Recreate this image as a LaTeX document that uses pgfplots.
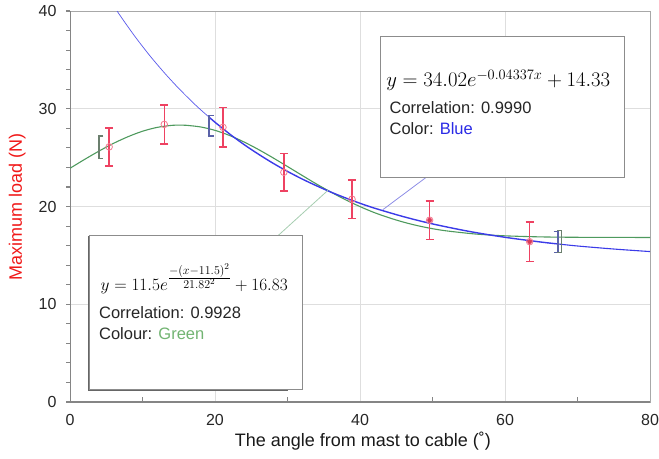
\documentclass[border=0pt]{standalone}
\usepackage[no-math]{fontspec}
\setmainfont{Liberation Sans}
\usepackage{pgfplots}
\pgfplotsset{compat=1.18}

\definecolor{fitblue}{HTML}{3B3BE8}
\definecolor{fitgreen}{HTML}{4E9A5E}
\definecolor{errred}{HTML}{EE4262}
\definecolor{labelred}{HTML}{F01818}
\definecolor{gridgray}{HTML}{DEDEDE}
\definecolor{framegray}{HTML}{A8A8A8}
\definecolor{axisgray}{HTML}{858585}
\definecolor{brgreen}{HTML}{6B7F6E}
\definecolor{brblue}{HTML}{5A62A8}
\definecolor{callblue}{HTML}{8E8EE6}
\definecolor{callgreen}{HTML}{A6CDB0}
\definecolor{txtgreen}{HTML}{72B472}
\definecolor{txtblue}{HTML}{2A2AE6}

\begin{document}
\begin{tikzpicture}
\begin{axis}[
  name=ax, scale only axis, width=580pt, height=391pt,
  xmin=0, xmax=80, ymin=0, ymax=40,
  xtick={0,20,40,60,80}, ytick={0,10,20,30,40},
  minor xtick={10,30,50,70}, minor ytick={2,4,6,8,12,14,16,18,22,24,26,28,32,34,36,38},
  grid=major, major grid style={gridgray, line width=0.7pt},
  axis line style={draw=framegray, line width=0.9pt},
  tick pos=left, tick align=outside,
  major tick length=4pt, minor tick length=4pt,
  every tick/.style={axisgray, line width=1.1pt},
  every minor tick/.style={axisgray, line width=1.1pt},
  major x tick style={draw=none},
  minor x tick style={yshift=5pt},
  ticklabel style={font=\fontsize{16}{18}\selectfont, text=black!85},
  yticklabel style={xshift=-6pt},
  xticklabel style={yshift=-5pt},
  /pgf/number format/assume math mode=true,
  xlabel={The angle from mast to cable (˚)},
  ylabel={Maximum load (N)},
  xlabel style={font=\fontsize{18}{20}\selectfont, text=black!90,
    at={(axis description cs:0.505,-0.1)}, anchor=center},
  ylabel style={font=\fontsize{18}{20}\selectfont, text=labelred,
    at={(axis description cs:-0.091,0.5)}, anchor=center},
]
% heavier left and bottom axis lines
\draw[axisgray, line width=1.8pt] (rel axis cs:0,1) -- (rel axis cs:0,0) -- (rel axis cs:1,0);

% gaussian fit (green)
\addplot[fitgreen, line width=1.1pt, smooth] coordinates {
(0,23.91)(2,24.81)(4,25.67)(6,26.46)(8,27.14)(10,27.70)(12,28.09)(14,28.30)
(15.2,28.33)(16,28.31)(18,28.14)(20,27.79)(22,27.27)(24,26.60)(26,25.83)
(28,24.98)(30,24.09)(32,23.19)(34,22.30)(36,21.47)(38,20.69)(40,19.99)
(42,19.37)(44,18.85)(46,18.40)(48,18.03)(50,17.73)(52,17.50)(56,17.18)
(60,17.00)(65,16.89)(70,16.85)(75,16.84)(80,16.83)};

% exponential fit (blue), thin outside the fit range
\addplot[fitblue!85, line width=0.7pt, smooth] coordinates {
(6.5,39.99)(7,39.44)(8,38.38)(9,37.35)(10,36.38)(11,35.44)(12,34.55)(13,33.69)
(14,32.87)(15,32.08)(16,31.33)(17,30.60)(18,29.91)(19.2,29.13)};
\addplot[fitblue, line width=1.4pt, smooth] coordinates {
(19.2,29.13)(20,28.62)(22,27.43)(24,26.34)(26,25.35)(28,24.43)(30,23.59)
(32,22.82)(34,22.12)(36,21.47)(38,20.88)(40,20.33)(42,19.83)(46,18.96)
(50,18.22)(55,17.46)(60,16.85)(65,16.36)(67.3,16.17)};
\addplot[fitblue, line width=1.1pt, smooth] coordinates {
(67.3,16.17)(70,15.96)(75,15.65)(80,15.39)};

% fit range brackets
\addplot[brgreen, line width=1.5pt] coordinates {(4.6,27.2)(4.0,27.2)(4.0,24.9)(4.6,24.9)};
\addplot[brblue, line width=1.5pt] coordinates {(19.8,29.3)(19.2,29.3)(19.2,27.2)(19.8,27.2)};
\addplot[brblue, line width=1.5pt] coordinates {(66.7,17.45)(67.3,17.45)(67.3,15.3)(66.7,15.3)};
\addplot[brgreen, line width=1.5pt] coordinates {(67.2,17.55)(67.8,17.55)(67.8,15.3)(67.2,15.3)};

% measurements with error bars
\addplot[errred, only marks, mark=o, mark size=3.3pt, mark options={errred!70, line width=0.8pt},
  error bars/.cd, y dir=both, y explicit,
  error bar style={errred, line width=1.4pt},
  error mark options={errred, rotate=90, mark size=4pt, line width=1.4pt}]
coordinates {
(5.4,26.1) +- (0,1.95)
(13.0,28.4) +- (0,2.0)
(21.1,28.1) +- (0,2.0)
(29.5,23.5) +- (0,1.9)
(38.9,20.75) +- (0,1.96)
(49.6,18.6) +- (0,1.95)
(63.4,16.4) +- (0,2.0)};
\addplot[only marks, mark=*, mark size=2.2pt, errred, mark options={fill=errred!90!black}]
coordinates {(49.6,18.6)(63.4,16.4)};

% call-out lines
\draw[callblue, line width=0.8pt] (axis cs:43.14,19.67) -- (axis cs:49.12,22.98);
\draw[callgreen, line width=0.8pt] (axis cs:35.57,21.65) -- (axis cs:28.68,17.01);

% blue box
\draw[draw=black!45, line width=0.9pt, fill=white] (axis cs:42.78,23.02) rectangle (axis cs:76.52,37.40);
\node[anchor=west, inner sep=0pt, font=\fontsize{20.5}{23}\selectfont] at (axis cs:43.6,32.9)
  {$y = 34.02e^{-0.04337x} + 14.33$};
\node[anchor=west, inner sep=0pt, font=\fontsize{16.5}{19}\selectfont, text=black!85] at (axis cs:44.06,30.1)
  {Correlation: 0.9990};
\node[anchor=west, inner sep=0pt, font=\fontsize{16.5}{19}\selectfont, text=black!85] at (axis cs:44.06,28.0)
  {Color: \textcolor{txtblue}{Blue}};

% green box
\draw[draw=black!45, line width=0.9pt, fill=white] (axis cs:2.66,1.26) rectangle (axis cs:32.12,17.01);
\draw[black!60, line width=1.2pt] (axis cs:2.6,17.0) -- (axis cs:2.6,1.2) -- (axis cs:30.0,1.2);
\node[anchor=west, inner sep=0pt, font=\fontsize{17.5}{20}\selectfont] at (axis cs:4.2,12.6)
  {$y = 11.5e^{\frac{\scriptstyle -(x-11.5)^2}{\scriptstyle 21.82^2}} + 16.83$};
\node[anchor=west, inner sep=0pt, font=\fontsize{16.5}{19}\selectfont, text=black!85] at (axis cs:3.99,9.1)
  {Correlation: 0.9928};
\node[anchor=west, inner sep=0pt, font=\fontsize{16.5}{19}\selectfont, text=black!85] at (axis cs:3.99,6.95)
  {Colour: \textcolor{txtgreen}{Green}};
\end{axis}
\pgfresetboundingbox
\path[use as bounding box] ([shift={(-70pt,-56pt)}]ax.south west) rectangle ([shift={(9pt,11pt)}]ax.north east);
\end{tikzpicture}
\end{document}
